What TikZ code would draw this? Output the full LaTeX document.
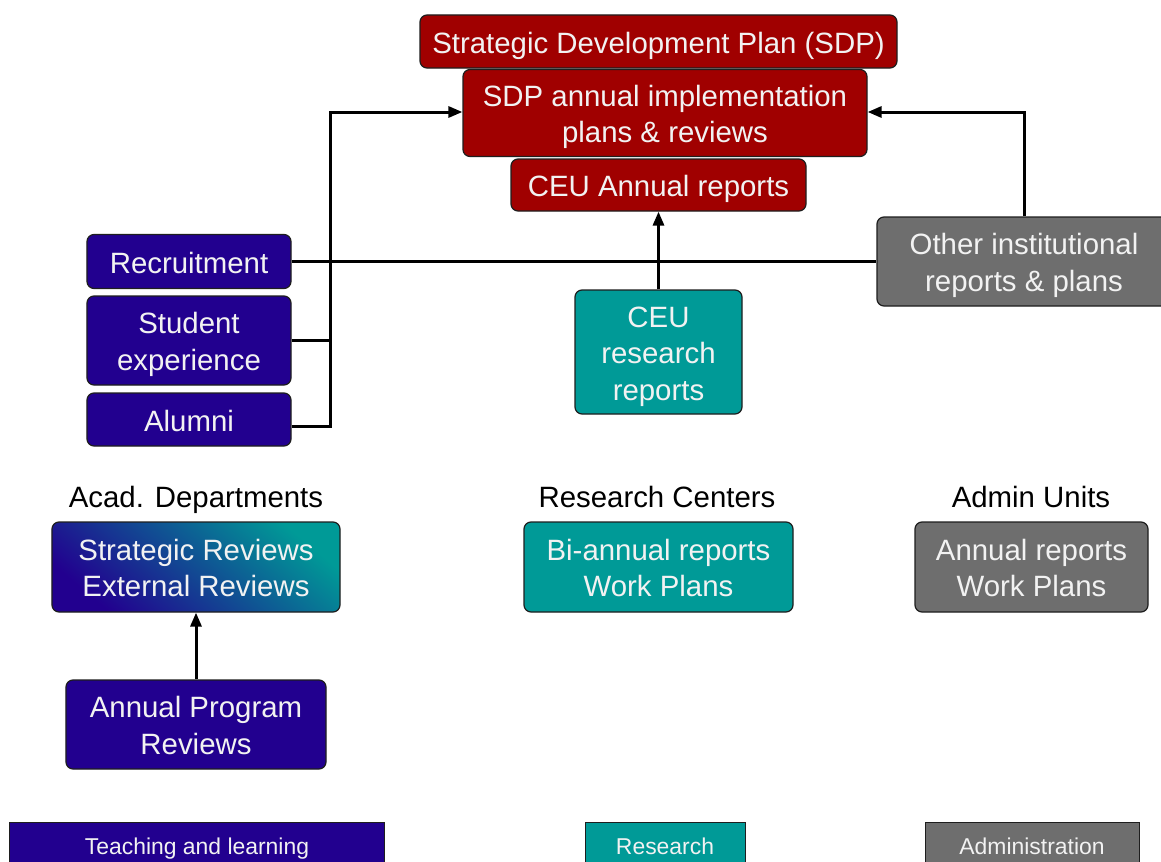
\documentclass[tikz,border=0pt]{standalone}
\usepackage{fontspec}
\setmainfont{Liberation Sans}
\usetikzlibrary{arrows.meta}
\definecolor{sdpred}{HTML}{A00000}
\definecolor{tlblue}{HTML}{22008F}
\definecolor{rteal}{HTML}{009A97}
\definecolor{agrey}{HTML}{6E6E6E}
\definecolor{edgec}{HTML}{1E1E1E}
\definecolor{txt}{HTML}{F2F2F2}
\begin{document}
\begin{tikzpicture}[x=1bp,y=-1bp,
  box/.style={draw=edgec, line width=1.2bp, rounded corners=7bp, text=txt, align=center,
    font=\fontsize{29.5}{36.5}\selectfont, inner sep=0pt,
    execute at begin node={\rule{0pt}{\dimexpr 31bp+36.5bp*(#1-1)\relax}},
    execute at end node={\rule[-8bp]{0pt}{0pt}}},
  box/.default=1,
  lbl/.style={text=black, font=\fontsize{29.5}{36.5}\selectfont, inner sep=0pt, text height=21bp, text depth=0pt},
  leg/.style={draw=edgec, line width=1bp, text=txt, font=\fontsize{23}{26}\selectfont, inner sep=0pt,
    minimum height=48bp, text height=16.5bp, text depth=0pt},
  conn/.style={line width=3bp, draw=black},
  arr/.style={conn, -{Triangle[length=14bp,width=11bp]}}
]
\clip (0,0) rectangle (1161,862);
\fill[white] (0,0) rectangle (1161,862);

% top red stack
\node[box, fill=sdpred, minimum width=477bp, minimum height=53bp] (sdp) at (658.5,41.5) {Strategic Development Plan (SDP)};
\node[box=2, fill=sdpred, minimum width=404bp, minimum height=87bp] (annual) at (665,113) {SDP annual implementation\\plans \& reviews};
\node[box, fill=sdpred, minimum width=295bp, minimum height=52bp] (ceu) at (658.5,185) {CEU Annual reports};

% left blue boxes
\node[box, fill=tlblue, minimum width=204bp, minimum height=54bp] (rec) at (189,261.5) {Recruitment};
\node[box=2, fill=tlblue, minimum width=204bp, minimum height=89bp] (stud) at (189,340.5) {Student\\experience};
\node[box, fill=tlblue, minimum width=204bp, minimum height=53bp] (alum) at (189,419.5) {Alumni};

% research reports
\node[box=3, fill=rteal, minimum width=167bp, minimum height=124bp] (res) at (658.5,352) {CEU\\research\\reports};

% other institutional
\node[box=2, fill=agrey, minimum width=294bp, minimum height=89bp] (other) at (1024,261.5) {Other institutional\\reports \& plans};

% column labels
\node[lbl] (acad) at (196,497) {Acad. Departments};
\node[lbl] (rcent) at (657,497) {Research Centers};
\node[lbl] (admin) at (1031,497) {Admin Units};

% second row
\node[box=2, left color=tlblue, right color=rteal, shading angle=140,
  minimum width=288bp, minimum height=90bp] (strat) at (196,567) {Strategic Reviews\\External Reviews};
\node[box=2, fill=rteal, minimum width=269bp, minimum height=90bp] (bian) at (658.5,567) {Bi-annual reports\\Work Plans};
\node[box=2, fill=agrey, minimum width=233bp, minimum height=90bp] (aunit) at (1031.5,567) {Annual reports\\Work Plans};

\node[box=2, fill=tlblue, minimum width=260bp, minimum height=89bp] (apr) at (196,724.5) {Annual Program\\Reviews};

% legend
\node[leg, fill=tlblue, minimum width=374bp] (lteach) at (197,846) {Teaching and learning};
\node[leg, fill=rteal, minimum width=160bp] (lres) at (665,846) {Research};
\node[leg, fill=agrey, minimum width=214bp] (ladm) at (1032,846) {Administration};

% connectors
\coordinate (jt) at (330,112);
\draw[conn] (stud.east) -| (jt);
\draw[arr] ([yshift=-7bp]alum.east) -| (jt) -- (annual.west |- jt);
\draw[conn] (rec.east) -- (other.west);
\draw[arr] (other.north) |- (annual.east |- jt);
\draw[arr] (res.north) -- (ceu.south);
\draw[arr] (apr.north) -- (strat.south);
\end{tikzpicture}
\end{document}
